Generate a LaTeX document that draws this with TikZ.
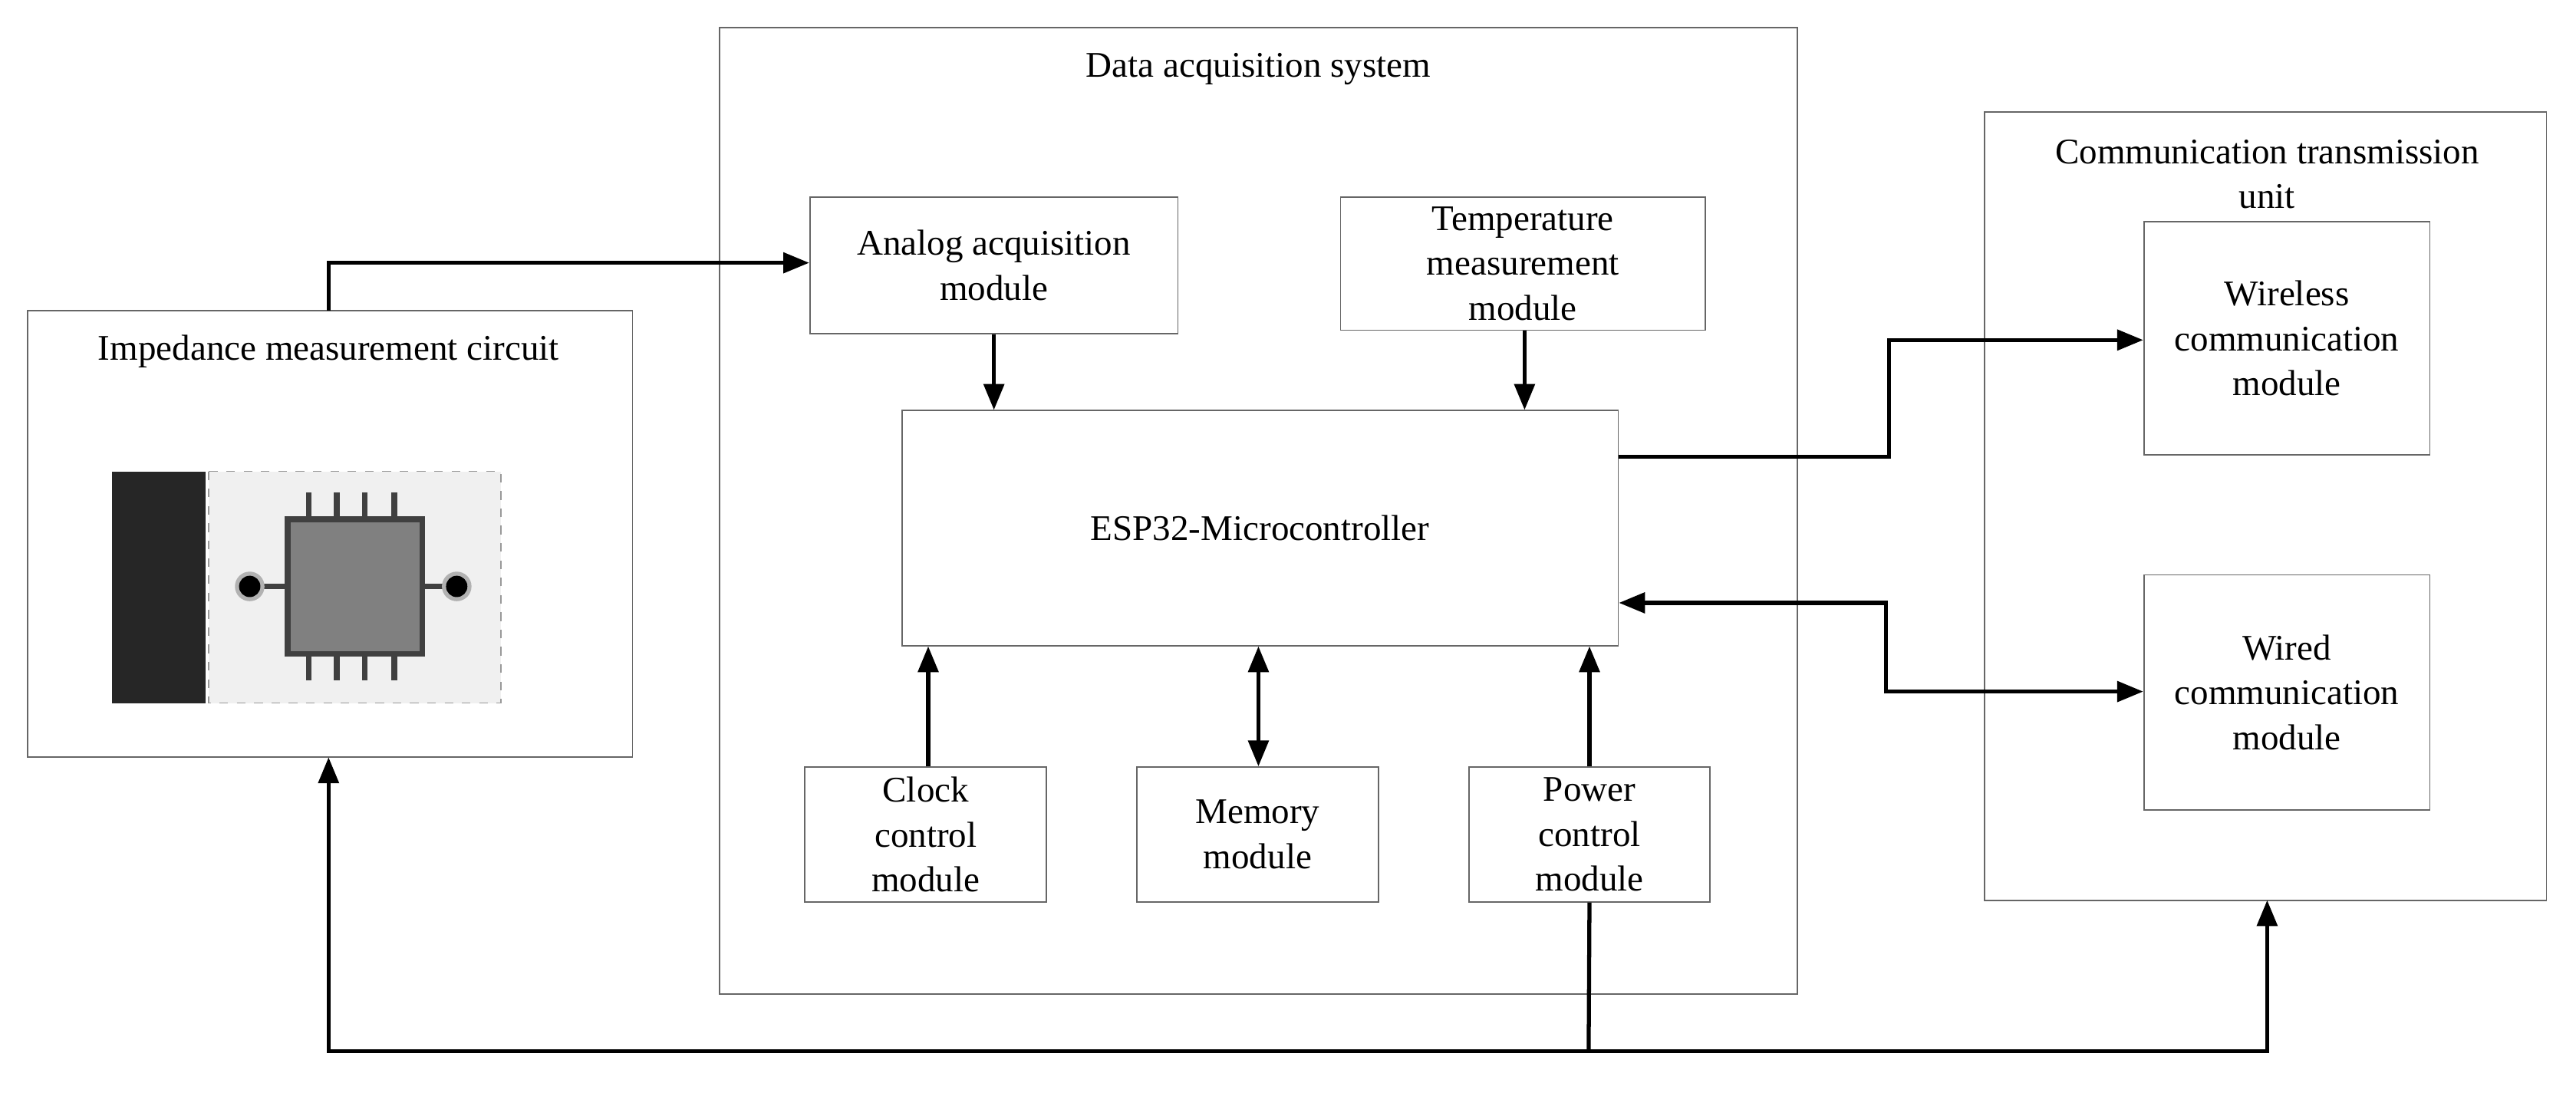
\documentclass[tikz,border=0pt]{standalone}
\usepackage{fontspec}
\setmainfont{Liberation Serif}
\usetikzlibrary{arrows.meta}
\begin{document}
\begin{tikzpicture}[x=0.02cm,y=-0.02cm,
  box/.style={draw=black!60,line width=0.5pt},
  txt/.style={align=center,font=\fontsize{12.5}{15.5}\selectfont},
  arr/.style={line width=1.4pt,-{Triangle[length=9pt,width=7pt]}},
  darr/.style={line width=1.4pt,{Triangle[length=9pt,width=7pt]}-{Triangle[length=9pt,width=7pt]}}]
\useasboundingbox (0,0) rectangle (1568,665);
% outer boxes
\draw[box] (17,189) rectangle (385,461);
\node[txt] (impt) at (200,214) {Impedance measurement circuit};
\coordinate (impT) at (200,189); \coordinate (impB) at (200,461);
\draw[box] (438,17) rectangle (1094,605);
\node[txt] (dast) at (766,42) {Data acquisition system};
\draw[box] (1208,68) rectangle (1550,548);
\node[txt] (comt) at (1380,106) {Communication transmission\\unit};
\coordinate (comB) at (1380,548);
% chip picture
\fill[black!85] (68,287) rectangle (125,428);
\draw[black!40,dashed,fill=black!6] (127,287) rectangle (305,428);
\foreach \x in {188,205,222,240}{
  \draw[black!75,line width=2pt] (\x,300) -- (\x,316);
  \draw[black!75,line width=2pt] (\x,398) -- (\x,414);}
\draw[black!75,line width=2pt] (152,357) -- (175,357) (257,357) -- (278,357);
\draw[black!75,line width=2pt,fill=black!50] (175,316) rectangle (257,398);
\fill[black!30] (152,357) circle (9); \fill[black] (152,357) circle (6.5);
\fill[black!30] (278,357) circle (9); \fill[black] (278,357) circle (6.5);
% inner modules
\node[box,txt,minimum width=224*0.02cm,minimum height=83*0.02cm] (ana) at (605,161.5) {Analog acquisition\\module};
\node[box,txt,minimum width=222*0.02cm,minimum height=81*0.02cm] (tem) at (927,160.5) {Temperature\\measurement\\module};
\node[box,txt,minimum width=436*0.02cm,minimum height=143*0.02cm] (esp) at (767,321.5) {ESP32-Microcontroller};
\node[box,txt,minimum width=147*0.02cm,minimum height=82*0.02cm] (clk) at (563.5,508) {Clock\\control\\module};
\node[box,txt,minimum width=147*0.02cm,minimum height=82*0.02cm] (mem) at (765.5,508) {Memory\\module};
\node[box,txt,minimum width=147*0.02cm,minimum height=82*0.02cm] (pow) at (967.5,508) {Power\\control\\module};
\node[box,txt,minimum width=174*0.02cm,minimum height=142*0.02cm] (wls) at (1392,206) {Wireless\\communication\\module};
\node[box,txt,minimum width=174*0.02cm,minimum height=143*0.02cm] (wrd) at (1392,421.5) {Wired\\communication\\module};
% connectors
\draw[arr] (impT) -- (200,160) -- (ana.west|-0,160);
\draw[arr] (ana.south-|605,0) -- (esp.north-|605,0);
\draw[arr] (tem.south-|928,0) -- (esp.north-|928,0);
\draw[arr] (clk.north-|565,0) -- (esp.south-|565,0);
\draw[darr] (esp.south-|766,0) -- (mem.north-|766,0);
\draw[arr] (pow.north) -- (esp.south-|pow.north);
\draw[arr] (esp.east|-0,278) -- (1150,278) -- (1150,207) -- (wls.west|-0,207);
\draw[darr] (esp.east|-0,367) -- (1148,367) -- (1148,421) -- (wrd.west|-0,421);
\draw[line width=1.4pt] (pow.south) -- (967,640);
\draw[arr] (967,640) -- (200,640) -- (impB);
\draw[arr] (967,640) -- (1380,640) -- (comB);
\end{tikzpicture}
\end{document}
